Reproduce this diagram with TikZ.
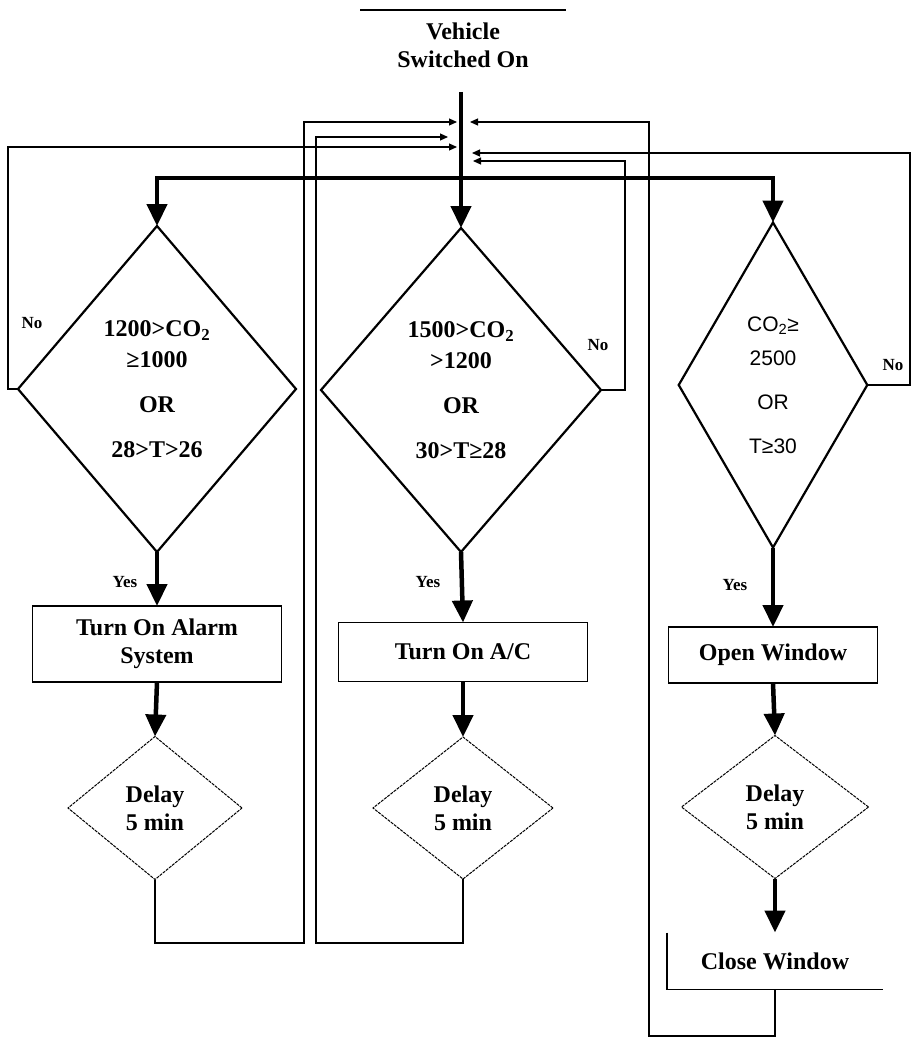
\documentclass[tikz,border=0pt]{standalone}
\usepackage{fontspec}
\setmainfont{Liberation Serif}
\setsansfont{Liberation Sans}
\usetikzlibrary{shapes.geometric,arrows.meta,positioning}

\begin{document}
\begin{tikzpicture}[x=1pt, y=-1pt,
    every node/.style={font=\fontsize{24}{28}\selectfont\bfseries, align=center, inner sep=0pt, outer sep=0pt},
    proc/.style={draw, line width=1.4pt},
    decide/.style={draw, diamond, line width=2.2pt, font=\fontsize{24}{31}\selectfont\bfseries},
    waitbox/.style={draw, diamond, line width=1pt, dash pattern=on 3pt off 1pt},
    flow/.style={line width=4.5pt, -{Triangle[width=20pt,length=22pt]}},
    back/.style={line width=1.2pt, -{Triangle[width=7pt,length=8pt]}},
    tag/.style={font=\fontsize{17}{19}\selectfont\bfseries}]

\useasboundingbox (0,0) rectangle (911,1038);

% start
\node[minimum width=206pt, minimum height=70pt] (start) at (463,45) {Vehicle\\Switched On};
\draw[line width=1.4pt] (start.north west) -- (start.north east);

% checks
\node[decide, minimum width=278pt, minimum height=326pt] (c1) at (157,389)
    {1200>CO\textsubscript{2}\\≥1000\\[14pt]OR\\[14pt]28>T>26};
\node[decide, minimum width=280pt, minimum height=324pt] (c2) at (461,390)
    {1500>CO\textsubscript{2}\\>1200\\[14pt]OR\\[14pt]30>T≥28};
\node[decide, minimum width=180pt, minimum height=325pt, font=\fontsize{21}{34}\sffamily] (c3) at (773,385)
    {CO\textsubscript{2}≥\\2500\\[10pt]OR\\[10pt]T≥30};

% actions
\node[proc, minimum width=249pt, minimum height=76pt] (b1) at (157,644) {Turn On Alarm\\System};
\node[proc, minimum width=249pt, minimum height=59pt] (b2) at (463,652) {Turn On A/C};
\node[proc, minimum width=209pt, minimum height=56pt] (b3) at (773,655) {Open Window};

% delays
\node[waitbox, minimum width=174pt, minimum height=143pt] (e1) at (155,808) {Delay\\5 min};
\node[waitbox, minimum width=180pt, minimum height=142pt] (e2) at (463,808) {Delay\\5 min};
\node[waitbox, minimum width=187pt, minimum height=143pt] (e3) at (775,807) {Delay\\5 min};

\node[minimum width=216pt, minimum height=57pt] (cw) at (775,961) {Close Window};
\draw[line width=1.4pt] (cw.north west) -- (cw.south west) -- (cw.south east);

% labels
\node[tag] (n1) at (32,323) {No};
\node[tag] (n2) at (598,345) {No};
\node[tag] (n3) at (893,365) {No};
\node[tag] (y1) at (125,582) {Yes};
\node[tag] (y2) at (428,582) {Yes};
\node[tag] (y3) at (735,585) {Yes};

% main flow
\coordinate (top) at (461,92);
\coordinate (split) at (461,178);
\draw[flow] (top) -- (c2.north);
\draw[flow] (split) -| (c1.north);
\draw[flow] (split) -| (c3.north);
\draw[flow] (c1.south) -- (b1.north);
\draw[flow] (c2.south) -- (b2.north);
\draw[flow] (c3.south) -- (b3.north);
\draw[flow] (b1.south) -- (e1.north);
\draw[flow] (b2.south) -- (e2.north);
\draw[flow] (b3.south) -- (e3.north);
\draw[flow] (e3.south) -- (cw.north);

% loops back
\coordinate (in1) at (457,122);
\coordinate (in2) at (448,137);
\coordinate (in3) at (457,147);
\coordinate (in4) at (473,161);
\coordinate (in5) at (472,153);
\coordinate (in6) at (470,122);
\draw[back] (e1.south) |- (304,943) |- (in1);
\draw[back] (e2.south) |- (316,943) |- (in2);
\draw[back] (c1.west) -- (8,389) |- (in3);
\draw[back] (c2.east) -- (625,390) |- (in4);
\draw[back] (c3.east) -- (910,385) |- (in5);
\draw[back] (cw.south) -- (775,1036) -| (649,122) -- (in6);

\end{tikzpicture}
\end{document}
